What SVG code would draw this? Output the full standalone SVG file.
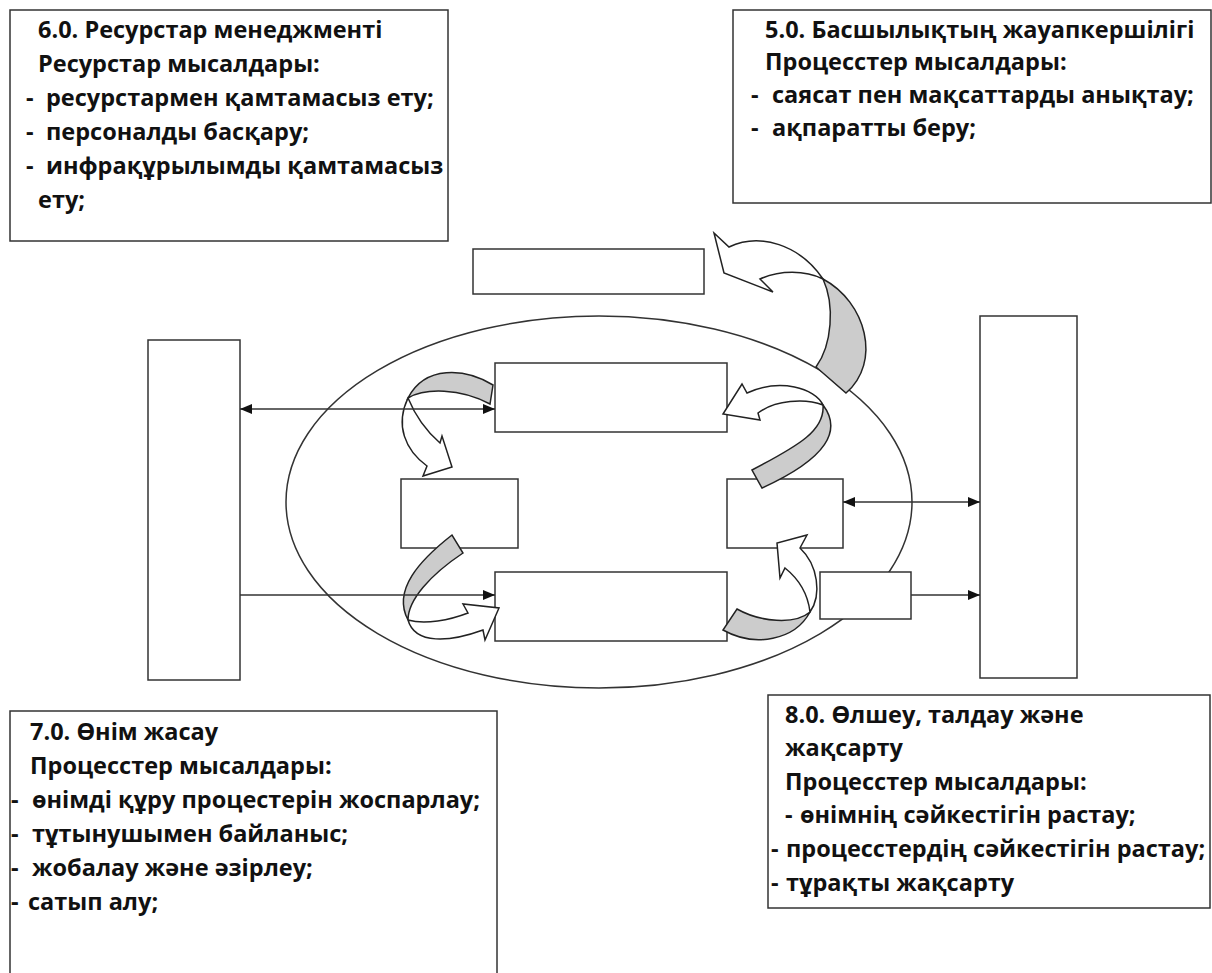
<svg xmlns="http://www.w3.org/2000/svg" width="1212" height="973" viewBox="0 0 1212 973">
<defs>
<style>
.box{fill:#fff;stroke:#333;stroke-width:1.5}
.txt{font-family:"Open Sans","Noto Sans","DejaVu Sans",sans-serif;font-weight:bold;font-size:23.5px;fill:#111}
.ln{stroke:#333;stroke-width:1.5;fill:none}
.wa{fill:#fff;stroke:#222;stroke-width:1.5;stroke-linejoin:miter}
.ga{fill:#cccccc;stroke:#222;stroke-width:1.5}
</style>
<marker id="ah" viewBox="0 0 12 10" refX="12" refY="5" markerWidth="12" markerHeight="10" markerUnits="userSpaceOnUse" orient="auto-start-reverse">
<path d="M0,0 L12,5 L0,10 Z" fill="#111"/>
</marker>
</defs>
<rect width="1212" height="973" fill="#fff"/>

<g id="ellipse"><ellipse cx="599" cy="502" rx="313" ry="186" class="box"/></g>

<g id="box60">
<rect x="10" y="10" width="438" height="231" class="box"/>
<text class="txt" x="38" y="38">6.0. Ресурстар менеджменті</text>
<text class="txt" x="38" y="72">Ресурстар мысалдары:</text>
<text class="txt" x="26" y="106">-<tspan x="46">ресурстармен қамтамасыз ету;</tspan></text>
<text class="txt" x="26" y="140">-<tspan x="46">персоналды басқару;</tspan></text>
<text class="txt" x="26" y="174">-<tspan x="46">инфрақұрылымды қамтамасыз</tspan></text>
<text class="txt" x="38" y="208">ету;</text>
</g>

<g id="box50">
<rect x="733" y="10" width="478" height="193" class="box"/>
<text class="txt" x="765" y="38">5.0. Басшылықтың жауапкершілігі</text>
<text class="txt" x="765" y="70">Процесстер мысалдары:</text>
<text class="txt" x="751" y="103">-<tspan x="772">саясат пен мақсаттарды анықтау;</tspan></text>
<text class="txt" x="751" y="136">-<tspan x="772">ақпаратты беру;</tspan></text>
</g>

<g id="box70">
<rect x="10" y="711" width="487" height="270" class="box"/>
<text class="txt" x="30" y="740">7.0. Өнім жасау</text>
<text class="txt" x="30" y="774">Процесстер мысалдары:</text>
<text class="txt" x="11" y="808">-<tspan x="32">өнімді құру процестерін жоспарлау;</tspan></text>
<text class="txt" x="11" y="842">-<tspan x="32">тұтынушымен байланыс;</tspan></text>
<text class="txt" x="11" y="876">-<tspan x="32">жобалау және әзірлеу;</tspan></text>
<text class="txt" x="11" y="910">-<tspan x="28">сатып алу;</tspan></text>
</g>

<g id="box80">
<rect x="768" y="695" width="442" height="213" class="box"/>
<text class="txt" x="785" y="723">8.0. Өлшеу, талдау және</text>
<text class="txt" x="785" y="756">жақсарту</text>
<text class="txt" x="785" y="790">Процесстер мысалдары:</text>
<text class="txt" x="785" y="823">-<tspan x="800">өнімнің сәйкестігін растау;</tspan></text>
<text class="txt" x="771" y="857">-<tspan x="786">процесстердің сәйкестігін растау;</tspan></text>
<text class="txt" x="771" y="891">-<tspan x="786">тұрақты жақсарту</tspan></text>
</g>

<g id="topempty"><rect x="473" y="249" width="231" height="45" class="box"/></g>
<g id="lefttall"><rect x="148" y="340" width="92" height="340" class="box"/></g>
<g id="righttall"><rect x="980" y="316" width="97" height="362" class="box"/></g>
<g id="topcenter"><rect x="495" y="363" width="232" height="69" class="box"/></g>
<g id="midleft"><rect x="401" y="479" width="117" height="69" class="box"/></g>
<g id="midright"><rect x="727" y="479" width="116" height="69" class="box"/></g>
<g id="botcenter"><rect x="495" y="572" width="232" height="69" class="box"/></g>
<g id="smallright"><rect x="820" y="572" width="91" height="47" class="box"/></g>

<g id="curved-arrows">
<path class="ga" d="M823,279 C866,302 882,362 846,393 L816,367 C832,345 835,305 823,279 Z"/>
<path class="wa" d="M823,279 C800,245 760,232 729,247 L714,233 L724,273 L773,292 L760,279 C780,270 805,270 823,279 Z"/>
<path class="ga" d="M493,385 C465,368 425,365 408,398 C425,388 460,388 490,404 Z"/>
<path class="wa" d="M408,398 C395,425 405,450 427,466 L423,476 L452,467 L442,436 L440,443 C425,430 415,415 408,398 Z"/>
<path class="ga" d="M452,535 C420,560 392,590 408,620 C408,600 430,575 463,553 Z"/>
<path class="wa" d="M408,620 C415,645 450,642 483,630 L485,640 L499,608 L463,604 L468,613 C450,620 425,625 408,620 Z"/>
<path class="ga" d="M823,405 C842,430 828,458 762,488 L752,470 C800,445 825,430 823,405 Z"/>
<path class="wa" d="M823,405 C815,388 780,378 747,393 L742,384 L723,414 L760,420 L758,413 C775,400 805,398 823,405 Z"/>
<path class="ga" d="M810,612 C795,640 755,648 723,630 L737,609 C760,622 795,625 810,612 Z"/>
<path class="wa" d="M810,612 C822,595 818,565 800,548 L807,535 L777,543 L780,578 L785,568 C800,580 808,595 810,612 Z"/>
</g>

<g id="connectors">
<line class="ln" x1="240" y1="409" x2="495" y2="409" marker-start="url(#ah)" marker-end="url(#ah)"/>
<line class="ln" x1="240" y1="595" x2="495" y2="595" marker-end="url(#ah)"/>
<line class="ln" x1="843" y1="502" x2="980" y2="502" marker-start="url(#ah)" marker-end="url(#ah)"/>
<line class="ln" x1="911" y1="595" x2="980" y2="595" marker-end="url(#ah)"/>
</g>
</svg>
